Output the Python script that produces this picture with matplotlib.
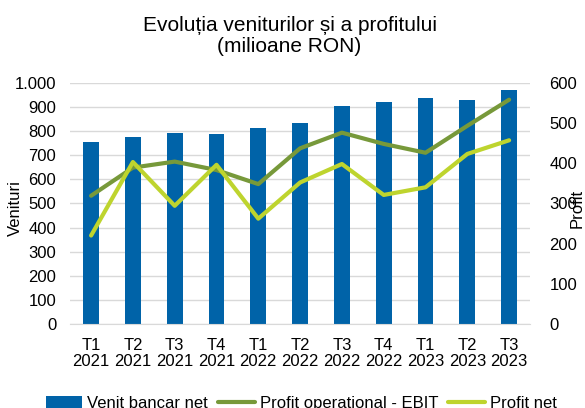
import matplotlib.pyplot as plt
import numpy as np
from matplotlib.ticker import FuncFormatter

plt.rcParams['font.family'] = ['Liberation Sans', 'DejaVu Sans']

# date
trimestre = ['T1\n2021', 'T2\n2021', 'T3\n2021', 'T4\n2021', 'T1\n2022', 'T2\n2022',
             'T3\n2022', 'T4\n2022', 'T1\n2023', 'T2\n2023', 'T3\n2023']
venit_bancar_net = [756, 775, 790, 786, 812, 835, 902, 920, 935, 928, 972]
profit_ebit = [319, 389, 404, 383, 348, 437, 476, 448, 426, 493, 558]
profit_net = [220, 403, 294, 396, 262, 352, 398, 321, 340, 423, 457]

fig = plt.figure(figsize=(5.85, 4.08), dpi=100)
ax = fig.add_axes([0.12, 0.206, 0.786, 0.591])
ax2 = ax.twinx()

x = np.arange(len(trimestre))
bars = ax.bar(x, venit_bancar_net, width=0.38, color='#0063A8', zorder=2)
l1, = ax2.plot(x, profit_ebit, color='#77993A', lw=3, solid_capstyle='round')
l2, = ax2.plot(x, profit_net, color='#BED42E', lw=3, solid_capstyle='round')

ax.set_xlim(-0.5, len(trimestre) - 0.5)
ax.set_ylim(0, 1000)
ax.set_yticks(np.arange(0, 1001, 100))
ax.yaxis.set_major_formatter(FuncFormatter(lambda v, p: f'{int(v):,}'.replace(',', '.')))
ax2.set_ylim(0, 600)
ax2.set_yticks(np.arange(0, 601, 100))

ax.grid(axis='y', color='#D9D9D9', lw=1, zorder=0)
ax.set_axisbelow(True)
for a in (ax, ax2):
    for s in a.spines.values():
        s.set_visible(False)
ax.spines['bottom'].set_visible(True)
ax.spines['bottom'].set_color('#D9D9D9')

ax.set_xticks(x)
ax.set_xticklabels(trimestre, fontsize=12, linespacing=1.1)
ax.tick_params(axis='x', length=0, pad=10)
ax.tick_params(axis='y', length=0, labelsize=12, pad=10)
ax2.tick_params(axis='y', length=0, labelsize=12, pad=14)

fig.text(0.026, 0.49, 'Venituri', rotation=90, fontsize=12, ha='center', va='center')
fig.text(0.986, 0.49, 'Profit', rotation=90, fontsize=12, ha='center', va='center')

fig.text(0.495, 0.912, 'Evoluția veniturilor și a profitului\n(milioane RON)', fontsize=15,
         ha='center', va='center', linespacing=1.12)

fig.legend([bars, l1, l2], ['Venit bancar net', 'Profit operational - EBIT', 'Profit net'],
           loc='center', bbox_to_anchor=(0.515, 0.012), ncol=3, frameon=False,
           fontsize=12, handlelength=2.2, columnspacing=0.6, handletextpad=0.3)

plt.savefig('out.png', dpi=100)
